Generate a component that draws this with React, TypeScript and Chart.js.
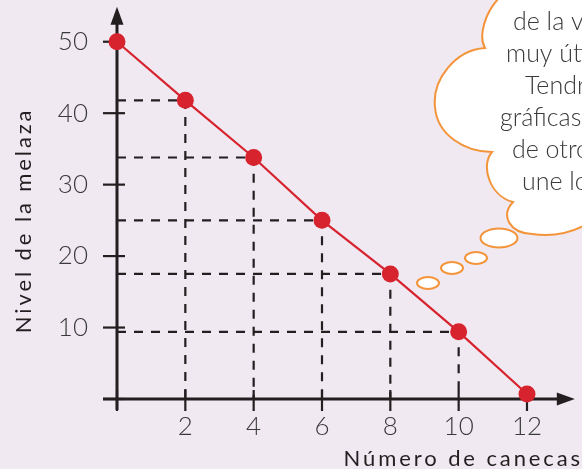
import React, { useEffect, useRef } from 'react';
import { Chart, registerables } from 'chart.js';

Chart.register(...registerables);

// ---- data ----
const canecas = [0, 2, 4, 6, 8, 10, 12];
const nivel = [50, 41.8, 33.8, 25, 17.5, 9.4, 0.7];
const yTickValues = [10, 20, 30, 40, 50];
const xTickValues = [2, 4, 6, 8, 10, 12];
const xTitle = 'Número de canecas';
const yTitle = 'Nivel de la melaza';
const cloudLines = ['de la v', 'muy úti', 'Tendr', 'gráficas', 'de otro', 'une lo'];

const BG = '#f0e9f2';
const INK = '#231f20';
const RED = '#d7232e';
const ORANGE = '#f4943a';
const LABEL_FONT = 'Lato, "Open Sans", sans-serif';

const bgPlugin = {
  id: 'bg',
  beforeDraw(chart: any) {
    const { ctx, width, height } = chart;
    ctx.save();
    ctx.fillStyle = BG;
    ctx.fillRect(0, 0, width, height);
    ctx.restore();
  },
};

const axesPlugin = {
  id: 'axesArrows',
  beforeDatasetsDraw(chart: any) {
    const { ctx, scales } = chart;
    const x = scales.x;
    const y = scales.y;
    const x0 = x.getPixelForValue(0);
    const y0 = y.getPixelForValue(0);
    const xEnd = x.getPixelForValue(13.4);
    const yEnd = y.getPixelForValue(54.9);
    ctx.save();
    ctx.strokeStyle = INK;
    ctx.fillStyle = INK;
    ctx.lineWidth = 3;
    ctx.beginPath();
    ctx.moveTo(x0 - 14, y0);
    ctx.lineTo(xEnd - 12, y0);
    ctx.stroke();
    ctx.beginPath();
    ctx.moveTo(x0, y0 + 11);
    ctx.lineTo(x0, yEnd + 12);
    ctx.stroke();
    // arrow heads
    ctx.beginPath();
    ctx.moveTo(xEnd, y0);
    ctx.lineTo(xEnd - 18, y0 - 6.5);
    ctx.lineTo(xEnd - 18, y0 + 6.5);
    ctx.closePath();
    ctx.fill();
    ctx.beginPath();
    ctx.moveTo(x0, yEnd);
    ctx.lineTo(x0 - 6.5, yEnd + 18);
    ctx.lineTo(x0 + 6.5, yEnd + 18);
    ctx.closePath();
    ctx.fill();
    // tick marks
    ctx.lineWidth = 2.2;
    [0, ...xTickValues].forEach((v) => {
      const px = x.getPixelForValue(v);
      ctx.beginPath();
      ctx.moveTo(px, y0 - 9);
      ctx.lineTo(px, y0 + 12);
      ctx.stroke();
    });
    [0, ...yTickValues].forEach((v) => {
      const py = y.getPixelForValue(v);
      ctx.beginPath();
      ctx.moveTo(x0 - 14, py);
      ctx.lineTo(x0 + 8, py);
      ctx.stroke();
    });
    ctx.restore();
  },
  afterDraw(chart: any) {
    const { ctx, scales, width, height } = chart;
    const y = scales.y;
    ctx.save();
    ctx.fillStyle = INK;
    (ctx as any).letterSpacing = '2.9px';
    ctx.font = `400 22px ${LABEL_FONT}`;
    // x title
    ctx.textAlign = 'right';
    ctx.textBaseline = 'alphabetic';
    ctx.fillText(xTitle, width + 1, height - 3);
    // y title
    ctx.translate(31, y.getPixelForValue(25));
    ctx.rotate(-Math.PI / 2);
    ctx.textAlign = 'center';
    ctx.fillText(yTitle, 0, 0);
    ctx.restore();

    // thought cloud
    ctx.save();
    ctx.fillStyle = '#ffffff';
    ctx.strokeStyle = ORANGE;
    ctx.lineWidth = 2;
    ctx.beginPath();
    ctx.moveTo(500, -3);
    ctx.bezierCurveTo(485, 12, 478, 36, 485, 48);
    ctx.bezierCurveTo(455, 50, 432, 80, 435, 107);
    ctx.bezierCurveTo(437, 135, 465, 152, 492, 152);
    ctx.bezierCurveTo(480, 166, 490, 196, 513, 202);
    ctx.bezierCurveTo(500, 216, 510, 233, 532, 234);
    ctx.bezierCurveTo(552, 237, 570, 233, 585, 225);
    ctx.lineTo(590, 225);
    ctx.lineTo(590, -3);
    ctx.closePath();
    ctx.fill();
    ctx.stroke();
    const bubbles = [
      [499, 238, 18.5, 9.5],
      [476, 258, 11, 6],
      [452, 268, 11, 6],
      [428, 283, 11, 6],
    ];
    bubbles.forEach(([cx, cy, rx, ry]) => {
      ctx.beginPath();
      ctx.ellipse(cx, cy, rx, ry, 0, 0, Math.PI * 2);
      ctx.fill();
      ctx.stroke();
    });
    ctx.fillStyle = '#3a3a3a';
    ctx.font = `300 25px ${LABEL_FONT}`;
    ctx.textAlign = 'left';
    ctx.textBaseline = 'alphabetic';
    const lineX = [513, 506, 525, 500, 512, 522];
    cloudLines.forEach((t, i) => {
      ctx.fillText(t, lineX[i], 30 + i * 32);
    });
    ctx.restore();
  },
};

const zeroPad = (s: any) => {
  s.paddingTop = 0;
  s.paddingBottom = 0;
  s.paddingLeft = 0;
  s.paddingRight = 0;
};

export default function App() {
  const canvasRef = useRef<HTMLCanvasElement | null>(null);

  useEffect(() => {
    document.body.style.margin = '0';
    const canvas = canvasRef.current;
    if (!canvas) return;

    const points = canecas.map((c, i) => ({ x: c, y: nivel[i] }));
    const guideSets = canecas
      .map((c, i) => ({ c, v: nivel[i] }))
      .filter((p) => p.c > 0 && p.c < 12)
      .map((p) => ({
        type: 'line' as const,
        data: [
          { x: 0, y: p.v },
          { x: p.c, y: p.v },
          { x: p.c, y: 0 },
        ],
        borderColor: INK,
        borderWidth: 2.2,
        borderDash: [9, 8],
        pointRadius: 0,
        fill: false,
        tension: 0,
        order: 2,
      }));

    const chart = new Chart(canvas, {
      type: 'line',
      data: {
        datasets: [
          {
            data: points,
            borderColor: RED,
            borderWidth: 2.2,
            pointRadius: 8.5,
            pointBackgroundColor: RED,
            pointBorderWidth: 0,
            pointHoverRadius: 8.5,
            tension: 0,
            fill: false,
            clip: false,
            order: 0,
          },
          ...guideSets,
        ] as any,
      },
      options: {
        animation: false,
        responsive: false,
        events: [],
        layout: { autoPadding: false, padding: { top: 6, right: 0, left: 0, bottom: 0 } },
        plugins: { legend: { display: false }, tooltip: { enabled: false } },
        scales: {
          x: {
            type: 'linear',
            min: 0,
            max: 13.61,
            grid: { display: false },
            border: { display: false },
            afterFit: (s: any) => {
              s.height = 70;
              zeroPad(s);
            },
            afterBuildTicks: (s: any) => {
              s.ticks = xTickValues.map((v) => ({ value: v }));
            },
            ticks: {
              color: '#3a3a3a',
              padding: 4,
              maxRotation: 0,
              autoSkip: false,
              font: { family: LABEL_FONT, size: 26, weight: 300 as any },
            },
          },
          y: {
            type: 'linear',
            min: 0,
            max: 55,
            grid: { display: false },
            border: { display: false },
            afterFit: (s: any) => {
              s.width = 117;
              zeroPad(s);
            },
            afterBuildTicks: (s: any) => {
              s.ticks = yTickValues.map((v) => ({ value: v }));
            },
            ticks: {
              color: '#3a3a3a',
              padding: 21,
              autoSkip: false,
              font: { family: LABEL_FONT, size: 26, weight: 300 as any },
            },
          },
        },
      },
      plugins: [bgPlugin, axesPlugin],
    });

    return () => chart.destroy();
  }, []);

  return (
    <div style={{ position: 'absolute', left: 0, top: 0, width: 582, height: 469 }}>
      <canvas ref={canvasRef} width={582} height={469} style={{ display: 'block' }} />
    </div>
  );
}
